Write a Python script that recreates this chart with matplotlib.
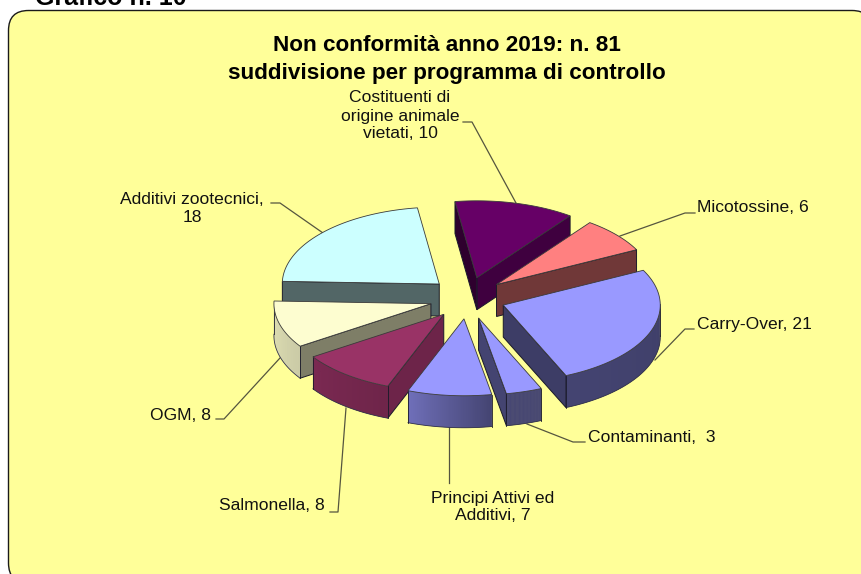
import numpy as np
import matplotlib
matplotlib.use('Agg')
import matplotlib.pyplot as plt
from matplotlib.patches import FancyBboxPatch, Polygon

plt.rcParams['font.family'] = ['Liberation Sans', 'DejaVu Sans']

# dati del grafico, in senso orario
categories = ['Costituenti di origine animale vietati', 'Micotossine', 'Carry-Over', 'Contaminanti',
              'Principi Attivi ed Additivi', 'Salmonella', 'OGM', 'Additivi zootecnici']
values = [10, 6, 21, 3, 7, 8, 8, 18]
labels = ['Costituenti di\norigine animale\nvietati, 10', 'Micotossine, 6', 'Carry-Over, 21', 'Contaminanti,  3',
          'Principi Attivi ed\nAdditivi, 7', 'Salmonella, 8', 'OGM, 8', 'Additivi zootecnici,\n18']
title = 'Non conformità anno 2019: n. 81\nsuddivisione per programma di controllo'
heading = 'Grafico n. 10'

# stile
colors = ['#660066', '#ff8080', '#9999ff', '#9999ff', '#9999ff', '#993366', '#fdfdd0', '#ccffff']
draw_order = [0, 7, 1, 6, 2, 5, 3, 4]
start_angle = 98.0
cx, cy = 467.5, 298.0
radius, squash, depth = 157.0, 0.49, 32.0
explode, explode_squash = 38.0, 0.55

# posizioni testo ed etichette in pixel
label_pos = [(400, 116), (697, 208), (697, 324), (588, 437), (493, 507), (272, 506), (181, 415), (192, 208)]
label_ha = ['center', 'left', 'left', 'left', 'center', 'center', 'center', 'center']
leaders = [[(463, 122), (472, 122), (516, 203)],
           [(695, 213), (685, 213), (620, 236)],
           [(694, 329), (685, 329), (655, 360)],
           [(585, 442), (573, 442), (527, 424)],
           [(449, 427), (449, 483)],
           [(330, 512), (338, 512), (346, 408)],
           [(216, 419), (224, 419), (280, 358)],
           [(271, 203), (280, 203), (323, 233)]]


def shade(color, f):
    return tuple(np.array(matplotlib.colors.to_rgb(color)) * f)


def side_factor(normal):
    # luminosita delle facce radiali in base alla normale
    return np.interp(normal % 360, [188, 203, 268, 297, 304, 324, 340], [0.45, 0.4, 0.4, 0.44, 0.5, 0.62, 0.72])


def arc_factor(ang):
    # luminosita del bordo esterno
    a = (ang + 180) % 360 - 180
    return np.interp(a, [-180, -146, -110, -80, 30], [0.88, 0.8, 0.72, 0.45, 0.4])


def draw_slice(ax, high, low, color):
    mid = np.radians((high + low) / 2)
    ax0 = cx + explode * np.cos(mid)
    ay0 = cy - explode * explode_squash * np.sin(mid)
    th = np.radians(np.linspace(low, high, 80))
    xs = ax0 + radius * np.cos(th)
    ys = ay0 - radius * squash * np.sin(th)

    # facce radiali visibili
    for ang, px, py, normal in [(low, xs[0], ys[0], low - 90), (high, xs[-1], ys[-1], high + 90)]:
        if np.sin(np.radians(normal)) < 0:
            quad = [(ax0, ay0), (px, py), (px, py + depth), (ax0, ay0 + depth)]
            ax.add_patch(Polygon(quad, closed=True, fc=shade(color, side_factor(normal)), ec='#1a1a2a', lw=0.7, zorder=3))

    # bordo esterno a strisce sovrapposte per la sfumatura
    vis = np.where(np.sin(th) < 0.02)[0]
    if len(vis) > 1:
        for a, b in zip(vis[:-1], vis[1:]):
            e = min(b + 1, vis[-1])
            quad = [(xs[a], ys[a]), (xs[e], ys[e]), (xs[e], ys[e] + depth), (xs[a], ys[a] + depth)]
            c = shade(color, arc_factor(np.degrees((th[a] + th[b]) / 2)))
            ax.add_patch(Polygon(quad, closed=True, fc=c, ec='none', zorder=3))
        ax.plot(xs[vis], ys[vis] + depth, color='#33334a', lw=0.6, zorder=3)
        for j in [vis[0], vis[-1]]:
            ax.plot([xs[j], xs[j]], [ys[j], ys[j] + depth], color='#1a1a2a', lw=0.6, zorder=3)

    top = [(ax0, ay0)] + list(zip(xs, ys))
    ax.add_patch(Polygon(top, closed=True, fc=color, ec='#3a3a3a', lw=0.6, zorder=3))


fig = plt.figure(figsize=(8.61, 5.74), dpi=100)
ax = fig.add_axes([0, 0, 1, 1])
ax.set_xlim(0, 861)
ax.set_ylim(574, 0)
ax.axis('off')

ax.add_patch(FancyBboxPatch((28.5, 30.5), 823.5, 532.5, boxstyle='round,pad=20,rounding_size=20',
                            fc='#ffff99', ec='#1a1a1a', lw=1.0, zorder=1))
ax.text(35, 5, heading, fontsize=18, fontweight='bold', ha='left', va='baseline', zorder=5)
ax.text(447, 59.5, title, fontsize=16.2, fontweight='bold', ha='center', va='center', linespacing=1.4, zorder=5)

# angoli delle fette dai valori
spans = np.array(values) / np.sum(values) * 360
highs = start_angle - np.concatenate([[0], np.cumsum(spans)[:-1]])
lows = highs - spans

for pts in leaders:
    ax.plot(*zip(*pts), color='#55553f', lw=0.9, zorder=2)
for i in draw_order:
    draw_slice(ax, highs[i], lows[i], colors[i])
for lab, pos, ha in zip(labels, label_pos, label_ha):
    ax.text(pos[0], pos[1], lab, fontsize=12.6, ha=ha, va='center', linespacing=1.25, color='#111111', zorder=5)

fig.savefig('out.png', dpi=100, facecolor='white')
